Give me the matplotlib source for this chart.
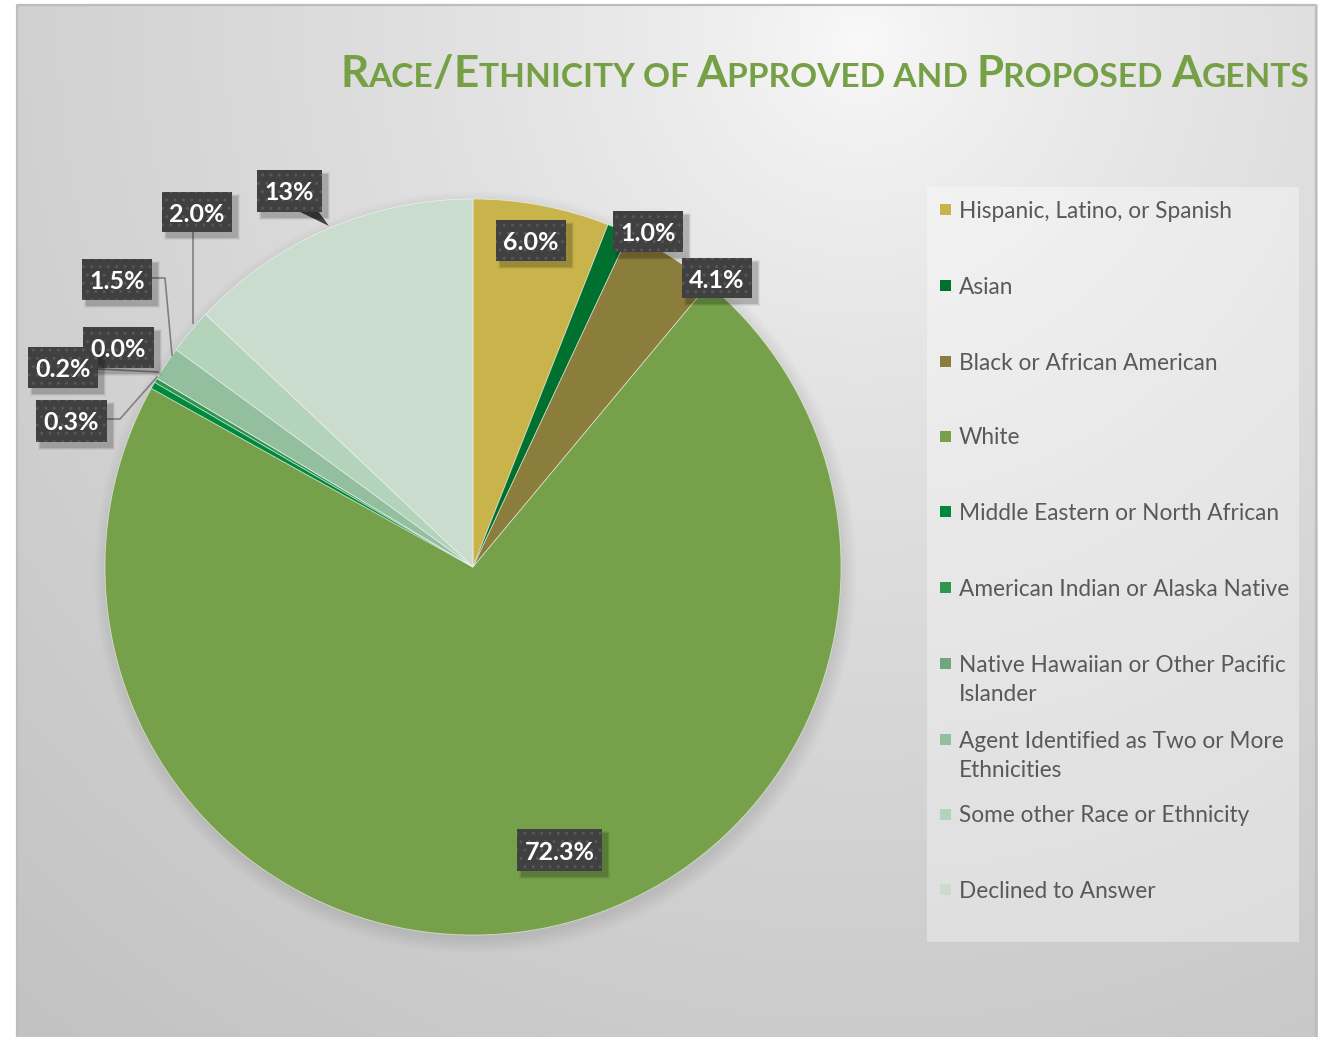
import numpy as np
import matplotlib
matplotlib.use("Agg")
import matplotlib.pyplot as plt
from matplotlib.patches import Rectangle, Polygon
from matplotlib.transforms import IdentityTransform
from matplotlib.font_manager import FontProperties

# ---------------- data ----------------
categories = ["Hispanic, Latino, or Spanish", "Asian", "Black or African American", "White",
              "Middle Eastern or North African", "American Indian or Alaska Native",
              "Native Hawaiian or Other Pacific\nIslander",
              "Agent Identified as Two or More\nEthnicities",
              "Some other Race or Ethnicity", "Declined to Answer"]
values = [6.0, 1.0, 4.1, 72.3, 0.3, 0.2, 0.0, 1.5, 2.0, 13.0]
value_labels = ["6.0%", "1.0%", "4.1%", "72.3%", "0.3%", "0.2%", "0.0%", "1.5%", "2.0%", "13%"]
colors = ["#C9B44B", "#00702F", "#8B7D3C", "#77A04A", "#00893C", "#2F9650",
          "#6FA67F", "#93BF9F", "#B3D3BB", "#C9DCCD"]
title_parts = [("R", 1), ("ACE", 0), ("/", 1), ("E", 1), ("THNICITY OF ", 0),
               ("A", 1), ("PPROVED AND ", 0), ("P", 1), ("ROPOSED ", 0),
               ("A", 1), ("GENTS", 0)]

W, H = 1324, 1037
fig = plt.figure(figsize=(W / 100, H / 100), dpi=100)
ax = fig.add_axes([0, 0, 1, 1])

def Y(py):
    return H - py

# ---------------- background ----------------
yy, xx = np.mgrid[0:H, 0:W].astype(float)
d = np.hypot(xx - 860, yy - 40)
g = 250 - 56 * np.clip(d / 1300, 0, 1) ** 0.7
pr = np.hypot(xx - 475, yy - 572)
sh = np.clip(1 - (pr - 366) / 16, 0, 1)
g = g * (1 - 0.10 * sh)
img = np.dstack([g, g, g]) / 255.0
mask = (xx < 16) | (xx > 1317) | (yy < 4)
img[mask] = 1.0
ax.imshow(img, extent=(0, W, 0, H), origin="upper", zorder=0, interpolation="bilinear")

bc = "#BDBDBD"
ax.plot([17, 17], [0, Y(5)], color=bc, lw=1.6, zorder=1, solid_capstyle="butt")
ax.plot([17, 1316], [Y(5), Y(5)], color=bc, lw=1.6, zorder=1, solid_capstyle="butt")
ax.plot([1316, 1316], [0, Y(5)], color=bc, lw=1.6, zorder=1, solid_capstyle="butt")

# ---------------- pie ----------------
wedges, _ = ax.pie(values, colors=colors, startangle=90, counterclock=False,
                   center=(473, Y(567)), radius=368, normalize=True,
                   wedgeprops=dict(edgecolor=(1, 1, 1, 0.55), linewidth=0.6))
for w_ in wedges:
    w_.set_zorder(2)

# ---------------- data labels ----------------
label_boxes = {  # pixel boxes (x0, y0, x1, y1)
    "6.0%": (496, 220, 566, 261),
    "1.0%": (613, 211, 683, 252),
    "4.1%": (682, 258, 752, 298),
    "72.3%": (517, 829, 602, 871),
    "0.3%": (36, 400, 107, 442),
    "0.0%": (83, 327, 154, 368),
    "0.2%": (28, 347, 98, 388),
    "1.5%": (82, 259, 152, 300),
    "2.0%": (162, 192, 232, 232),
    "13%": (257, 170, 322, 212),
}
leaders = [
    [(193, 232), (193, 323)],
    [(152, 278), (165, 278), (172, 355)],
    [(98, 369), (158, 372)],
    [(107, 419), (120, 419), (157, 377)],
]
for pts in leaders:
    ax.plot([p[0] for p in pts], [Y(p[1]) for p in pts], color="#808080", lw=1.2, zorder=3)

# callout pointer for 13%
ax.add_patch(Polygon([(298, Y(211)), (318, Y(211)), (329, Y(226))], closed=True,
                     facecolor="#404040", edgecolor="none", zorder=5))

order = ["6.0%", "1.0%", "4.1%", "72.3%", "0.3%", "0.0%", "0.2%", "1.5%", "2.0%", "13%"]
lab_font = "Lato"
for i, lab in enumerate(order):
    assert lab in value_labels
    x0, y0, x1, y1 = label_boxes[lab]
    w, h = x1 - x0, y1 - y0
    z = 5 + i * 0.01
    for k, a in [(6, 0.05), (4, 0.08), (2.5, 0.12)]:
        ax.add_patch(Rectangle((x0 + 5 - k / 2, Y(y1) - 5 - k / 2), w + k, h + k,
                               facecolor="black", alpha=a, edgecolor="none", zorder=z))
    ax.add_patch(Rectangle((x0, Y(y1)), w, h, facecolor="#404040", edgecolor="none", zorder=z + 0.001))
    ax.add_patch(Rectangle((x0, Y(y1)), w, h, fill=False, hatch="..", edgecolor="#575757",
                           linewidth=0, zorder=z + 0.002))
    ax.text((x0 + x1) / 2, Y((y0 + y1) / 2), lab, color="white", fontsize=18,
            fontfamily=lab_font, fontweight="bold", ha="center", va="center_baseline",
            zorder=7)

# ---------------- legend ----------------
ax.add_patch(Rectangle((927, Y(942)), 1299 - 927, 942 - 187, facecolor="white", alpha=0.35,
                       edgecolor="none", zorder=1.5))
leg_y = [209, 285, 361, 436, 511, 587, 663, 739, 814, 889]
for cat, col, yc in zip(categories, colors, leg_y):
    ax.add_patch(Rectangle((940, Y(yc) - 5.5), 11, 11, facecolor=col, edgecolor="none", zorder=3))
    for j, line in enumerate(cat.split("\n")):
        ax.text(959, Y(yc + j * 29.5), line, color="#595959", fontsize=16.3, fontfamily="Lato",
                ha="left", va="center_baseline", zorder=3)

ax.set_xlim(0, W)
ax.set_ylim(0, H)
ax.set_aspect("equal")
ax.axis("off")

# ---------------- title (small caps) ----------------
renderer = fig.canvas.get_renderer()
tcol = "#76A046"

def twidth(s, size):
    fp = FontProperties(family="Lato", weight="bold", size=size)
    w1, _, _ = renderer.get_text_width_height_descent("|" + s + "|", fp, ismath=False)
    w0, _, _ = renderer.get_text_width_height_descent("||", fp, ismath=False)
    return (w1 - w0)

big0 = 34.0
ratio = 0.76
total = sum(twidth(s, big0 if b else big0 * ratio) for s, b in title_parts)
big = big0 * (1307 - 340) / total
small = big * ratio
x = 340.0
for s, b in title_parts:
    sz = big if b else small
    fig.text(x, H - 87, s, transform=IdentityTransform(), fontsize=sz, fontfamily="Lato",
             fontweight="bold", color=tcol, ha="left", va="baseline")
    x += twidth(s, sz)

fig.savefig("out.png", dpi=100)
